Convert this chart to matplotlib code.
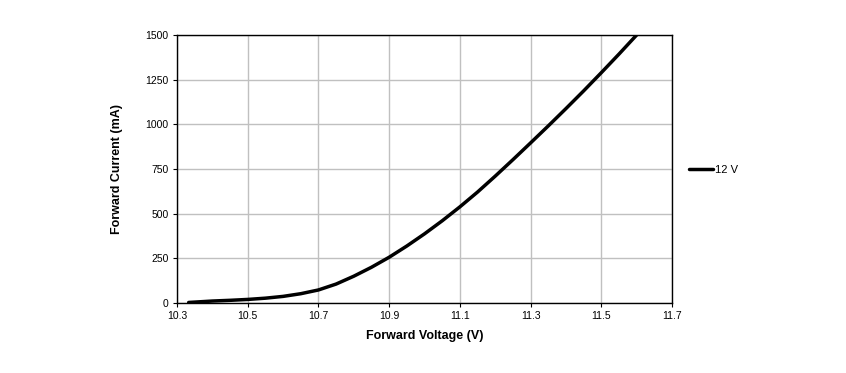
import matplotlib
matplotlib.use("Agg")
import matplotlib.pyplot as plt

plt.rcParams['font.family'] = ['Liberation Sans', 'DejaVu Sans']

voltage = [10.333, 10.4, 10.45, 10.5, 10.55, 10.6, 10.65, 10.7, 10.75, 10.8, 10.85, 10.9, 10.95,
           11.0, 11.05, 11.1, 11.15, 11.2, 11.25, 11.3, 11.35, 11.4, 11.45, 11.5, 11.55, 11.6]
current = [3, 11, 15, 20, 27, 37, 52, 73, 106, 150, 200, 256, 319,
           387, 460, 538, 621, 710, 802, 896, 991, 1088, 1187, 1289, 1393, 1500]
series_label = "12 V"
x_ticks = [10.3, 10.5, 10.7, 10.9, 11.1, 11.3, 11.5, 11.7]
y_ticks = [0, 250, 500, 750, 1000, 1250, 1500]

fig = plt.figure(figsize=(8.46, 3.73), dpi=100)
ax = fig.add_axes([177/846, 70/373, 495/846, 268/373])

ax.plot(voltage, current, color='black', lw=2.5, label=series_label,
        solid_capstyle='round', solid_joinstyle='round')
ax.set_xlim(10.3, 11.7)
ax.set_ylim(0, 1500)
ax.set_xticks(x_ticks)
ax.set_xticklabels([f"{t:.1f}" for t in x_ticks])
ax.set_yticks(y_ticks)
ax.grid(True, color='#c0c0c0', lw=1.0)
ax.set_axisbelow(True)
ax.tick_params(axis='both', labelsize=7.5, length=3, width=0.8, color='black', pad=3)
for s in ax.spines.values():
    s.set_color('black')
    s.set_linewidth(1.0)

ax.set_xlabel("Forward Voltage (V)", fontsize=9, fontweight='bold', labelpad=6)
ax.set_ylabel("Forward Current (mA)", fontsize=9, fontweight='bold', labelpad=16)

leg = ax.legend(loc='center left', bbox_to_anchor=(1.025, 0.496), frameon=False,
                fontsize=8, handlelength=2.2, handletextpad=0.15, borderaxespad=0)

fig.savefig("out.png", dpi=100)
